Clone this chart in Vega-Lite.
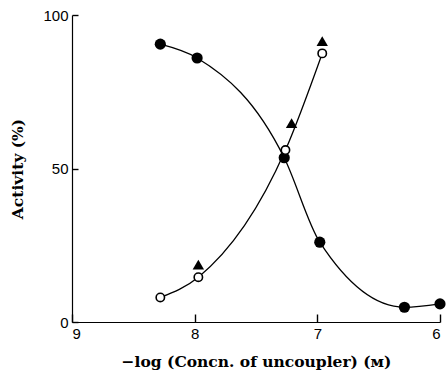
{
  "$schema": "https://vega.github.io/schema/vega-lite/v6.json",
  "width": 368,
  "height": 307,
  "autosize": {"type": "none"},
  "padding": {"left": 72, "top": 15, "right": 7, "bottom": 56},
  "background": "white",
  "config": {
    "view": {"stroke": null},
    "axis": {
      "grid": false,
      "ticks": true,
      "domainColor": "black",
      "domainWidth": 1.2,
      "tickColor": "black",
      "tickWidth": 1.4,
      "labelFont": "Liberation Sans",
      "titleFont": "DejaVu Serif",
      "labelColor": "black",
      "titleColor": "black",
      "labelFontSize": 15,
      "titleFontSize": 15.5,
      "titleFontWeight": "bold"
    }
  },
  "data": {
    "values": [
      {"series": "filled", "x": 8.28, "y": 90.5},
      {"series": "filled", "x": 7.98, "y": 86},
      {"series": "filled", "x": 7.27, "y": 53.5},
      {"series": "filled", "x": 6.98, "y": 26},
      {"series": "filled", "x": 6.29, "y": 4.8},
      {"series": "filled", "x": 6.0, "y": 5.9},
      {"series": "open", "x": 8.28, "y": 8},
      {"series": "open", "x": 7.97, "y": 14.6},
      {"series": "open", "x": 7.26, "y": 56},
      {"series": "open", "x": 6.96, "y": 87.5},
      {"series": "tri", "x": 7.97, "y": 18.7},
      {"series": "tri", "x": 7.21, "y": 64.8},
      {"series": "tri", "x": 6.96, "y": 91.5}
    ]
  },
  "encoding": {
    "x": {
      "field": "x", "type": "quantitative",
      "scale": {"domain": [6, 9], "reverse": true, "nice": false, "zero": false},
      "axis": {"values": [9, 8, 7, 6], "tickSize": -8, "labelPadding": 12, "title": "\u2212log (Concn. of uncoupler) (\u1d0d)", "titlePadding": 13}
    },
    "y": {
      "field": "y", "type": "quantitative",
      "scale": {"domain": [0, 100], "nice": false},
      "axis": {"values": [0, 50, 100], "tickSize": -6, "labelPadding": 10, "title": "Activity (%)", "titlePadding": 17}
    }
  },
  "layer": [
    {
      "transform": [{"filter": "datum.series === 'filled'"}],
      "mark": {"type": "line", "interpolate": "monotone", "color": "black", "strokeWidth": 1.3}
    },
    {
      "transform": [{"filter": "datum.series === 'open'"}],
      "mark": {"type": "line", "interpolate": "monotone", "color": "black", "strokeWidth": 1.3}
    },
    {
      "transform": [{"filter": "datum.series === 'filled'"}],
      "mark": {"type": "point", "shape": "circle", "filled": true, "color": "black", "size": 125, "opacity": 1}
    },
    {
      "transform": [{"filter": "datum.series === 'open'"}],
      "mark": {"type": "point", "shape": "circle", "filled": true, "fill": "white", "stroke": "black", "strokeWidth": 1.6, "size": 70, "opacity": 1}
    },
    {
      "transform": [{"filter": "datum.series === 'tri'"}],
      "mark": {"type": "point", "shape": "triangle-up", "filled": true, "color": "black", "size": 130, "opacity": 1}
    }
  ]
}
